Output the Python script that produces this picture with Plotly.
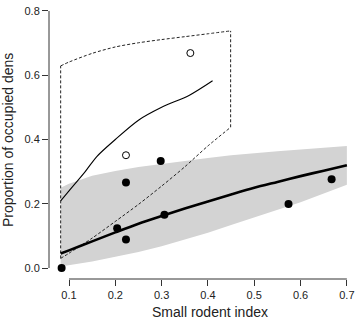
import plotly.graph_objects as go

# observed dens
filled_x = [0.084, 0.204, 0.223, 0.223, 0.298, 0.306, 0.574, 0.667]
filled_y = [0.0, 0.124, 0.266, 0.089, 0.333, 0.166, 0.199, 0.276]
open_x = [0.223, 0.362]
open_y = [0.351, 0.669]

# fitted line and confidence band
fit_x = [0.082, 0.1, 0.15, 0.2, 0.25, 0.3, 0.35, 0.4, 0.45, 0.5, 0.55, 0.6, 0.65, 0.7]
fit_y = [0.045, 0.055, 0.083, 0.111, 0.138, 0.162, 0.185, 0.207, 0.229, 0.250, 0.268, 0.286, 0.303, 0.320]
band_lo = [0.005, 0.009, 0.02, 0.035, 0.05, 0.068, 0.088, 0.11, 0.134, 0.157, 0.18, 0.205, 0.232, 0.259]
band_hi = [0.25, 0.262, 0.287, 0.302, 0.314, 0.324, 0.333, 0.342, 0.351, 0.357, 0.363, 0.369, 0.375, 0.38]

# second fit (thin) and its dashed envelope
thin_x = [0.082, 0.1, 0.135, 0.16, 0.2, 0.25, 0.3, 0.36, 0.41]
thin_y = [0.209, 0.24, 0.30, 0.347, 0.40, 0.46, 0.50, 0.538, 0.583]
env_x = [0.082, 0.1, 0.15, 0.2, 0.25, 0.3, 0.35, 0.4, 0.449]
env_hi = [0.629, 0.641, 0.668, 0.688, 0.701, 0.711, 0.72, 0.729, 0.738]
env_lo = [0.03, 0.046, 0.093, 0.145, 0.198, 0.255, 0.315, 0.38, 0.438]

x_ticks = [0.1, 0.2, 0.3, 0.4, 0.5, 0.6, 0.7]
y_ticks = [0.0, 0.2, 0.4, 0.6, 0.8]

fig = go.Figure()

fig.add_trace(go.Scatter(
    x=fit_x + fit_x[::-1], y=band_lo + band_hi[::-1],
    fill='toself', fillcolor='#d3d3d3', line=dict(width=0), mode='lines',
    hoverinfo='skip'))

# dashed envelope: curved top and bottom, straight vertical sides
dash = dict(color='#222', width=1, dash='3px,2px')
fig.add_trace(go.Scatter(x=env_x, y=env_hi, mode='lines',
                         line=dict(shape='spline', smoothing=0.8, **dash)))
fig.add_trace(go.Scatter(x=env_x, y=env_lo, mode='lines',
                         line=dict(shape='spline', smoothing=0.8, **dash)))
fig.add_trace(go.Scatter(x=[env_x[0], env_x[0]], y=[env_lo[0], env_hi[0]],
                         mode='lines', line=dash))
fig.add_trace(go.Scatter(x=[env_x[-1], env_x[-1]], y=[env_lo[-1], env_hi[-1]],
                         mode='lines', line=dash))

fig.add_trace(go.Scatter(x=thin_x, y=thin_y, mode='lines',
                         line=dict(color='black', width=1.1, shape='spline', smoothing=0.8)))
fig.add_trace(go.Scatter(x=fit_x, y=fit_y, mode='lines',
                         line=dict(color='black', width=2.6, shape='spline', smoothing=0.8)))

fig.add_trace(go.Scatter(x=filled_x, y=filled_y, mode='markers',
                         marker=dict(color='black', size=8)))
fig.add_trace(go.Scatter(x=open_x, y=open_y, mode='markers',
                         marker=dict(color='white', size=7,
                                     line=dict(color='black', width=1))))

axis_style = dict(showgrid=False, zeroline=False, showline=False, automargin=False,
                  ticks='outside', ticklen=6, tickwidth=1, tickcolor='#333',
                  tickfont=dict(size=11, color='#222'))

fig.update_xaxes(range=[0.0568, 0.724], tickvals=x_ticks,
                 ticktext=[f'{v:.1f}' for v in x_ticks], **axis_style)
fig.update_yaxes(range=[-0.0342, 0.831], tickvals=y_ticks,
                 ticktext=[f'{v:.1f}' for v in y_ticks], **axis_style)

# R-style axis lines that only span the ticks
fig.add_shape(type='line', xref='x', yref='paper', x0=0.1, x1=0.7, y0=0, y1=0,
              line=dict(color='#333', width=1))
fig.add_shape(type='line', xref='paper', yref='y', x0=0, x1=0, y0=0, y1=0.8,
              line=dict(color='#333', width=1))

fig.add_annotation(text='Small rodent index', xref='paper', yref='paper',
                   x=(210 - 49) / 309, y=0, yshift=-33, yanchor='middle',
                   showarrow=False, font=dict(size=14, color='#222'))
fig.add_annotation(text='Proportion of occupied dens', xref='paper', yref='paper',
                   x=0, xshift=-41, y=1 - (140 - 1) / 278, textangle=-90,
                   xanchor='center', showarrow=False, font=dict(size=14, color='#222'))

fig.update_layout(
    width=360, height=322, showlegend=False,
    margin=dict(l=49, r=2, t=1, b=43),
    plot_bgcolor='white', paper_bgcolor='white',
    font=dict(family='Liberation Sans, Arial, sans-serif'))

# drop the browser's default page margin so the figure sits at the top-left corner
fig.write_html('out.html', config={'displayModeBar': False},
               post_script="document.body.style.margin = '0';")
